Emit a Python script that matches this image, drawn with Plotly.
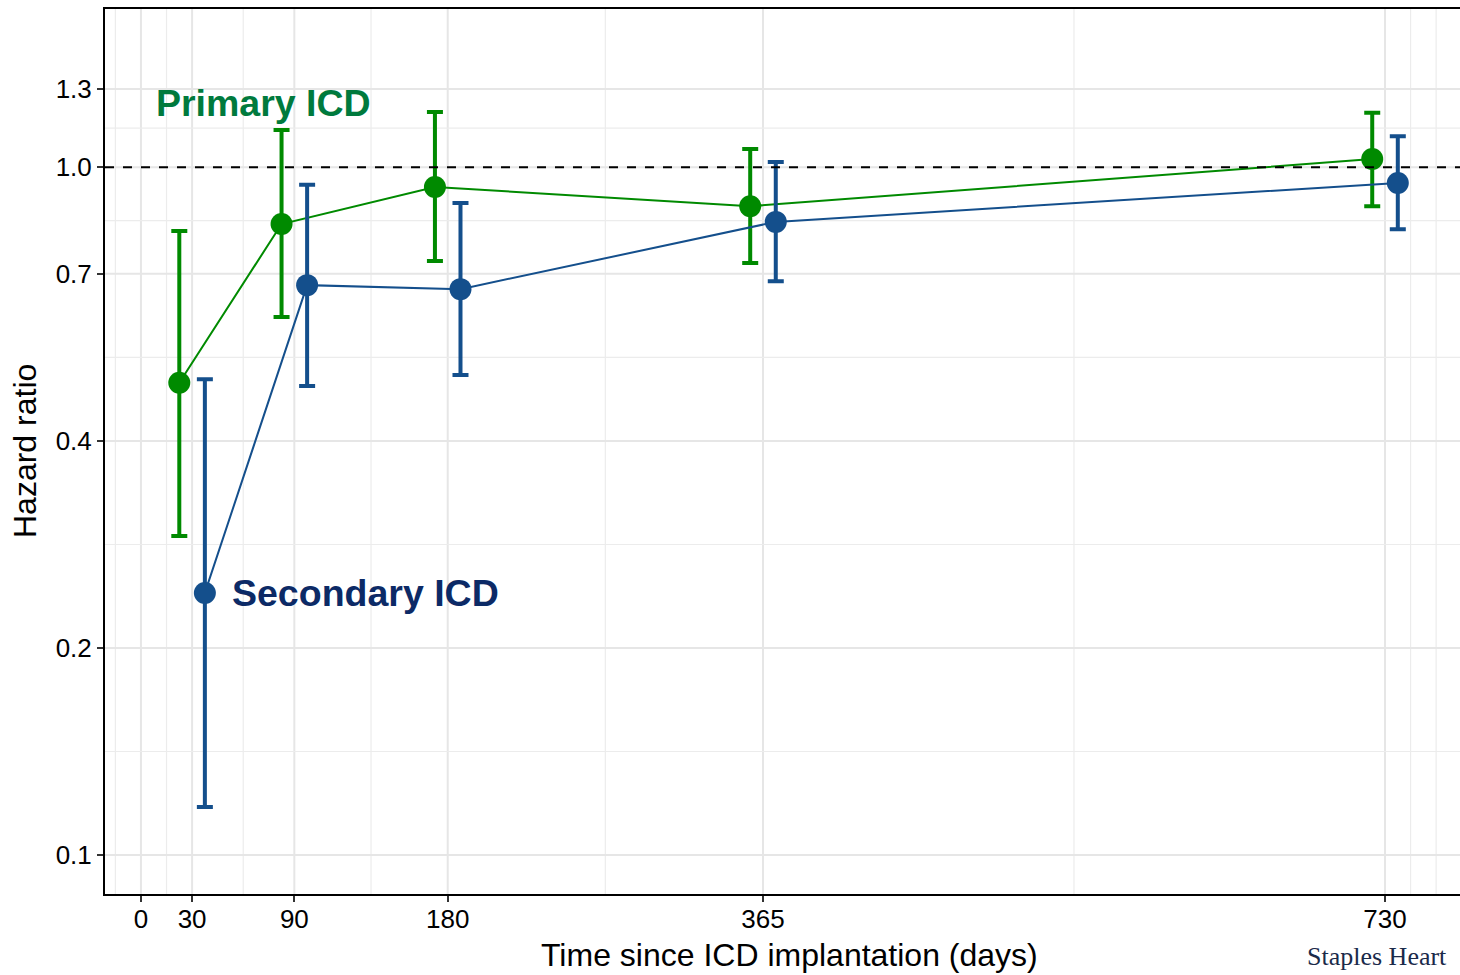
import numpy as np
import plotly.graph_objects as go

# Follow-up landmarks (days since implantation)
days = [30, 90, 180, 365, 730]
dodge = 7.5  # horizontal offset so the two groups don't overlap

# Primary-prevention ICD: hazard ratio with 95% CI
primary_hr = [0.486, 0.827, 0.936, 0.878, 1.028]
primary_lo = [0.291, 0.606, 0.731, 0.726, 0.878]
primary_hi = [0.808, 1.133, 1.203, 1.063, 1.200]

# Secondary-prevention ICD: hazard ratio with 95% CI
secondary_hr = [0.2405, 0.674, 0.665, 0.833, 0.949]
secondary_lo = [0.1174, 0.481, 0.499, 0.683, 0.813]
secondary_hi = [0.492, 0.943, 0.887, 1.018, 1.110]

x_ticks = [0, 30, 90, 180, 365, 730]
x_minor = [-15, 15, 60, 135, 272.5, 547.5, 745, 760]
y_ticks = [0.1, 0.2, 0.4, 0.7, 1.0, 1.3]
y_tick_text = ["0.1", "0.2", "0.4", "0.7", "1.0", "1.3"]
y_minor = [np.sqrt(0.1 * 0.2), np.sqrt(0.2 * 0.4), np.sqrt(0.4 * 0.7),
           np.sqrt(0.7 * 1.0), np.sqrt(1.0 * 1.3)]

GREEN = "#008a00"
BLUE = "#144f8c"
FONT = "Liberation Sans, Arial, sans-serif"

fig = go.Figure()


def add_series(x, hr, lo, hi, color):
    fig.add_trace(go.Scatter(
        x=x, y=hr, mode="lines+markers",
        line=dict(color=color, width=2),
        marker=dict(color=color, size=22),
        error_y=dict(type="data", symmetric=False,
                     array=[h - m for h, m in zip(hi, hr)],
                     arrayminus=[m - l for m, l in zip(hr, lo)],
                     color=color, thickness=4, width=8),
        showlegend=False, hoverinfo="skip",
    ))


add_series([d - dodge for d in days], primary_hr, primary_lo, primary_hi, GREEN)
add_series([d + dodge for d in days], secondary_hr, secondary_lo, secondary_hi, BLUE)

shapes = []
for v in x_minor:
    shapes.append(dict(type="line", xref="x", yref="paper", x0=v, x1=v, y0=0, y1=1,
                       line=dict(color="#ececec", width=1.2), layer="below"))
for v in x_ticks:
    shapes.append(dict(type="line", xref="x", yref="paper", x0=v, x1=v, y0=0, y1=1,
                       line=dict(color="#e6e6e6", width=2), layer="below"))
for v in y_minor:
    shapes.append(dict(type="line", xref="paper", yref="y", x0=0, x1=1,
                       y0=v, y1=v, line=dict(color="#ececec", width=1.2), layer="below"))
for v in y_ticks:
    shapes.append(dict(type="line", xref="paper", yref="y", x0=0, x1=1,
                       y0=v, y1=v, line=dict(color="#e6e6e6", width=2), layer="below"))
# Reference line at HR = 1
shapes.append(dict(type="line", xref="paper", yref="y", x0=0, x1=1, y0=1.0, y1=1.0,
                   line=dict(color="black", width=2, dash="dash")))

# Group labels (annotation y on a log axis is given in log10 units)
annotations = [
    dict(x=7.8, y=np.log10(1.24), xref="x", yref="y", text="<b>Primary ICD</b>",
         showarrow=False, xanchor="left", yanchor="middle",
         font=dict(family=FONT, size=37.5, color="#007a3d")),
    dict(x=52.0, y=np.log10(secondary_hr[0]), xref="x", yref="y",
         text="<b>Secondary ICD</b>",
         showarrow=False, xanchor="left", yanchor="middle",
         font=dict(family=FONT, size=37.5, color="#0c2a66")),
    dict(x=(789 - 105) / 1355, y=-(955 - 894) / 885, xref="paper", yref="paper",
         text="Time since ICD implantation (days)", showarrow=False,
         xanchor="center", yanchor="middle",
         font=dict(family=FONT, size=32, color="black")),
    dict(x=-(105 - 25) / 1355, y=(894 - 451) / 885, xref="paper", yref="paper",
         text="Hazard ratio", showarrow=False, textangle=-90,
         xanchor="center", yanchor="middle",
         font=dict(family=FONT, size=32, color="black")),
    dict(x=(1305 - 105) / 1355, y=-(973 - 894) / 885, xref="paper", yref="paper",
         text="Staples Heart", showarrow=False, xanchor="left", yanchor="bottom",
         font=dict(family="Liberation Serif, Times New Roman, serif", size=26,
                   color="#1a2a4a")),
]

fig.update_layout(
    width=1460, height=975,
    margin=dict(l=105, r=0, t=9, b=81),
    paper_bgcolor="white", plot_bgcolor="white",
    shapes=shapes, annotations=annotations,
    font=dict(family=FONT, color="black"),
    xaxis=dict(range=[-21.1, 774.0], tickvals=x_ticks, ticktext=[str(v) for v in x_ticks],
               showgrid=False, zeroline=False, showline=True, mirror=True,
               linecolor="black", linewidth=2, ticks="outside", ticklen=6,
               tickwidth=2, tickcolor="#333333", ticklabelstandoff=-5,
               tickfont=dict(family=FONT, size=26, color="black")),
    yaxis=dict(type="log", range=[-1.0567, 0.2302], tickvals=y_ticks, ticktext=y_tick_text,
               showgrid=False, zeroline=False, showline=True, mirror=False,
               linecolor="black", linewidth=2, ticks="outside", ticklen=6,
               tickwidth=2, tickcolor="#333333",
               tickfont=dict(family=FONT, size=26, color="black")),
)

fig.write_html("out.html")
